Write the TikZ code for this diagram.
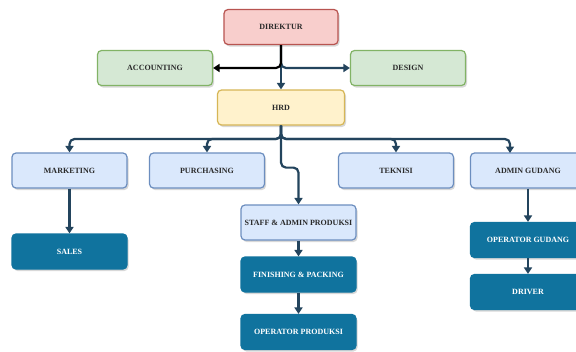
\documentclass[tikz,border=0pt]{standalone}
\usepackage{fontspec}
\setmainfont{Liberation Serif}
\usetikzlibrary{arrows.meta,shadows,calc}
\definecolor{redF}{HTML}{F8CECC}\definecolor{redD}{HTML}{B85450}
\definecolor{grnF}{HTML}{D5E8D4}\definecolor{grnD}{HTML}{82B366}
\definecolor{yelF}{HTML}{FFF2CC}\definecolor{yelD}{HTML}{D6B656}
\definecolor{bluF}{HTML}{DAE8FC}\definecolor{bluD}{HTML}{6C8EBF}
\definecolor{dark}{HTML}{10739E}
\definecolor{lineC}{HTML}{23445D}
\definecolor{txt}{HTML}{2A2A2A}
\tikzset{
  box/.style={draw, line width=1.2pt, rounded corners=4pt, minimum width=115pt, minimum height=35pt,
    font=\fontsize{8}{9}\selectfont\bfseries, text=txt, inner sep=1pt,
    drop shadow={shadow xshift=1.5pt, shadow yshift=-2pt, opacity=0.25, fill=black!60}},
  redbox/.style={box, fill=redF, draw=redD},
  grnbox/.style={box, fill=grnF, draw=grnD},
  yelbox/.style={box, fill=yelF, draw=yelD},
  blubox/.style={box, fill=bluF, draw=bluD},
  darkbox/.style={box, fill=dark, draw=dark, text=white},
  arr/.style={draw=lineC, line width=2.2pt, -{Triangle[length=6.5pt,width=8pt]}, rounded corners=5pt},
}
\begin{document}
\begin{tikzpicture}[x=1pt,y=-1pt]
\useasboundingbox (0,0) rectangle (576,351);
\fill[white] (0,0) rectangle (576,351);
\begin{scope}
\clip (0,0) rectangle (576,351);
\node[redbox, minimum width=114pt] (dir) at (281,27) {DIREKTUR};
\node[grnbox] (acc) at (155,68) {ACCOUNTING};
\node[grnbox] (des) at (408,68) {DESIGN};
\node[yelbox, minimum width=127pt] (hrd) at (281,107.5) {HRD};
\node[blubox] (mkt) at (69.5,170.5) {MARKETING};
\node[blubox] (pur) at (207,170.5) {PURCHASING};
\node[blubox] (tek) at (396,170.5) {TEKNISI};
\node[blubox] (adm) at (528,170.5) {ADMIN GUDANG};
\node[blubox] (stf) at (298.5,222.5) {STAFF \& ADMIN PRODUKSI};
\node[darkbox] (sal) at (69.5,251.5) {SALES};
\node[darkbox] (fin) at (298.5,274.5) {FINISHING \& PACKING};
\node[darkbox] (opp) at (298.5,332) {OPERATOR PRODUKSI};
\node[darkbox] (opg) at (528,240) {OPERATOR GUDANG};
\node[darkbox] (drv) at (528,292) {DRIVER};

\coordinate (bus) at (281,139);
\coordinate (admIn) at (510,153);

\draw[arr] (dir.south) -- (hrd.north);
\draw[arr] (dir.south) |- (des.west);
\draw[arr, draw=black] (dir.south) |- (acc.east);

\draw[arr] (hrd.south) -- (bus) -| (mkt.north);
\draw[arr] (hrd.south) -- (bus) -| (pur.north);
\draw[arr] (hrd.south) -- (bus) -| (tek.north);
\draw[arr] (hrd.south) -- (bus) -| (admIn);
\draw[arr] (hrd.south) -- ++(0,42) -| (stf.north);

\draw[arr] (mkt.south) -- (sal.north);
\draw[arr] (stf.south) -- (fin.north);
\draw[arr] (fin.south) -- (opp.north);
\draw[arr] (adm.south) -- (opg.north);
\draw[arr] (opg.south) -- (drv.north);
\end{scope}
\end{tikzpicture}
\end{document}
